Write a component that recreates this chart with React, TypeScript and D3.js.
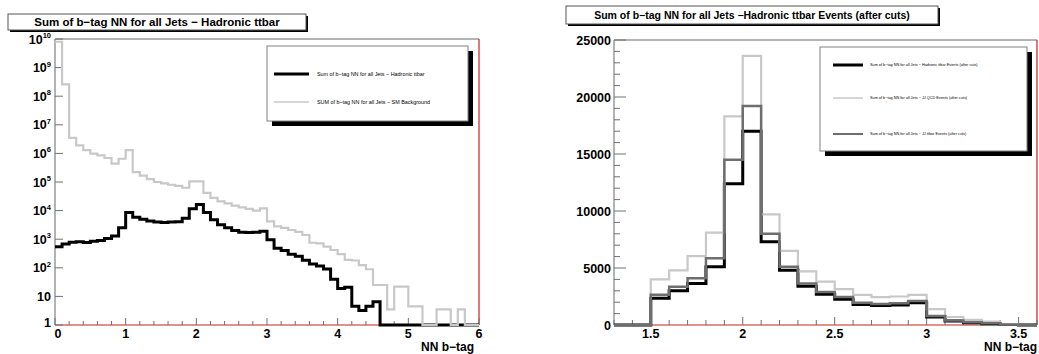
import React from "react";
import * as d3 from "d3";

// ---------------- DATA ----------------
const leftBinEdges = [
  0.0, 0.1, 0.2, 0.3, 0.4, 0.5, 0.6, 0.7, 0.8, 0.9,
  1.0, 1.1, 1.2, 1.3, 1.4, 1.5, 1.6, 1.7, 1.8, 1.9,
  2.0, 2.1, 2.2, 2.3, 2.4, 2.5, 2.6, 2.7, 2.8, 2.9,
  3.0, 3.1, 3.2, 3.3, 3.4, 3.5, 3.6, 3.7, 3.8, 3.9,
  4.0, 4.1, 4.2, 4.3, 4.4, 4.5, 4.6, 4.7, 4.8, 4.9,
  5.0, 5.1, 5.2, 5.3, 5.4, 5.5, 5.6, 5.7, 5.8, 5.9, 6.0,
];
// Sum of b-tag NN for all Jets - Hadronic ttbar
const leftHadronic = [
  550, 680, 780, 820, 760, 850, 900, 1050, 1300, 2500,
  8500, 5800, 5000, 4300, 4000, 3800, 4000, 4100, 5400, 11500,
  16500, 8500, 4800, 3200, 2500, 2000, 1750, 1700, 1750, 1900,
  950, 480, 400, 300, 255, 185, 135, 115, 90, 40,
  19, 21, 4.5, 3.2, 4.5, 6.5, 0, 0, 0, 0,
  0, 0, 0, 0, 0, 0, 0, 0, 0, 0,
];
// SUM of b-tag NN for all Jets - SM Background
const leftBackground = [
  8e9, 2.6e8, 3.5e6, 1.9e6, 1.3e6, 9.8e5, 8.5e5, 6.9e5, 4.4e5, 6.5e5,
  1.3e6, 2.2e5, 1.66e5, 1.26e5, 1.0e5, 8.9e4, 8.0e4, 7.3e4, 6.3e4, 1.05e5,
  1.05e5, 4.2e4, 2.8e4, 2.1e4, 1.8e4, 1.5e4, 1.3e4, 1.15e4, 1.0e4, 1.2e4,
  4200, 2800, 2500, 2100, 1800, 1400, 750, 720, 550, 420,
  300, 190, 180, 125, 89, 25, 25, 3.5, 22, 22,
  4.5, 4.5, 0, 0, 3.5, 3.5, 0, 3.5, 0, 0,
];

const rightBinEdges = [
  1.3, 1.4, 1.5, 1.6, 1.7, 1.8, 1.9, 2.0, 2.1, 2.2, 2.3, 2.4,
  2.5, 2.6, 2.7, 2.8, 2.9, 3.0, 3.1, 3.2, 3.3, 3.4, 3.5, 3.6,
];
const rightHadronic = [
  0, 0, 2350, 3000, 3650, 5100, 12400, 17000, 7300, 4800, 3400, 2700,
  2250, 1800, 1700, 1750, 1950, 700, 350, 200, 120, 40, 0,
];
const rightJJbkg = [
  0, 0, 4000, 4800, 6050, 8100, 18300, 23600, 9700, 6500, 4700, 3800,
  3150, 2650, 2450, 2500, 2650, 1400, 700, 450, 300, 80, 0,
];
const rightJJttbar = [
  0, 0, 2650, 3350, 4100, 5850, 14500, 19200, 8000, 5100, 3650, 2900,
  2450, 1950, 1850, 1900, 2100, 800, 400, 250, 150, 50, 0,
];

const leftXTicks = [0, 1, 2, 3, 4, 5, 6];
const leftYExponents = [0, 1, 2, 3, 4, 5, 6, 7, 8, 9, 10];
const rightXTicks = [1.5, 2, 2.5, 3, 3.5];
const rightXTickLabels = ["1.5", "2", "2.5", "3", "3.5"];
const rightYTicks = [0, 5000, 10000, 15000, 20000, 25000];

const leftTitle = "Sum of b\u2212tag NN for all Jets \u2212 Hadronic ttbar";
const rightTitle = "Sum of b\u2212tag NN for all Jets \u2212Hadronic ttbar Events (after cuts)";
const axisTitle = "NN b\u2212tag";
const leftLegend = [
  "Sum of b\u2212tag NN for all Jets \u2212 Hadronic ttbar",
  "SUM of b\u2212tag NN for all Jets \u2212 SM Background",
];
const rightLegend = [
  "Sum of b\u2212tag NN for all Jets \u2212 Hadronic ttbar Events (after cuts)",
  "Sum of b\u2212tag NN for all Jets \u2212 JJ QCD Events (after cuts)",
  "Sum of b\u2212tag NN for all Jets \u2212 JJ ttbar Events (after cuts)",
];

// ---------------- STYLE ----------------
const FONT = "'Liberation Sans', Arial, Helvetica, sans-serif";
const BLACK = "#000000";
const LIGHT = "#c8c8c8";
const MID = "#6e6e6e";
const FRAME = "#9a9a9a";
const TICK = "#707070";
const RED = "#cc1f1f";

function stepPath(edges: number[], values: number[], x: (v: number) => number, y: (v: number) => number) {
  const pts: [number, number][] = values.map((v, i) => [x(edges[i]), y(v)]);
  pts.push([x(edges[edges.length - 1]), y(values[values.length - 1])]);
  return d3.line().curve(d3.curveStepAfter)(pts) || "";
}

function TitleBox({ x, y, w, h, text, size }: any) {
  return (
    <g>
      <rect x={x + 2} y={y + 2} width={w} height={h} fill="#000" />
      <rect x={x} y={y} width={w} height={h} fill="#fff" stroke="#555" strokeWidth={1} />
      <text x={x + w / 2} y={y + h / 2 + size * 0.36} textAnchor="middle" fontFamily={FONT}
        fontWeight="bold" fontSize={size} fill="#000">{text}</text>
    </g>
  );
}

function Legend({ x, y, w, h, entries, size, lineX0, lineX1, textX }: any) {
  return (
    <g>
      <rect x={x + 5} y={y + 5} width={w} height={h} fill="#000" />
      <rect x={x} y={y} width={w} height={h} fill="#fff" stroke="#808080" strokeWidth={1} />
      {entries.map((e: any, i: number) => (
        <g key={i}>
          <line x1={lineX0} x2={lineX1} y1={e.y} y2={e.y} stroke={e.color} strokeWidth={e.width} />
          <text x={textX} y={e.y + size * 0.35} fontFamily={FONT} fontSize={size} fill="#000">{e.label}</text>
        </g>
      ))}
    </g>
  );
}

export default function App() {
  // Left panel scales
  const lx = d3.scaleLinear().domain([0, 6]).range([55, 479]);
  const ly = d3.scaleLog().domain([1, 1e10]).range([325, 39]).clamp(true);
  const lyv = (v: number) => (v > 0 ? ly(v) : 325);
  // Right panel scales
  const rx = d3.scaleLinear().domain([1.3, 3.6]).range([614, 1037]);
  const ry = d3.scaleLinear().domain([0, 25000]).range([325, 40]);

  const leftMinorX = d3.range(0, 6.0001, 0.2).filter((t) => Math.abs(t - Math.round(t)) > 1e-6);
  const leftMinorY = ly.ticks().filter((t) => Math.abs(Math.log10(t) - Math.round(Math.log10(t))) > 1e-6);
  const rightMinorX = d3.range(1.3, 3.6001, 0.1).filter((t) => Math.abs(t * 2 - Math.round(t * 2)) > 1e-6);
  const rightMinorY = d3.range(0, 25001, 1000).filter((t) => t % 5000 !== 0);

  const labelSize = 12.5;

  return (
    <svg width={1039} height={354} style={{ position: "absolute", left: 0, top: 0, background: "#fff" }}
      xmlns="http://www.w3.org/2000/svg">
      <rect x={0} y={0} width={1039} height={354} fill="#fff" />

      {/* ============ LEFT PANEL ============ */}
      <g>
        <line x1={55} x2={479} y1={39} y2={39} stroke={FRAME} strokeWidth={1.5} />
        <line x1={55} x2={55} y1={39} y2={325} stroke={FRAME} strokeWidth={1.5} />
        <line x1={479} x2={479} y1={39} y2={325} stroke={RED} strokeWidth={1.2} />
        <line x1={55} x2={479} y1={325} y2={325} stroke={RED} strokeWidth={1} />
        {leftYExponents.map((k) => (
          <line key={"lyM" + k} x1={55} x2={63} y1={ly(Math.pow(10, k))} y2={ly(Math.pow(10, k))} stroke={TICK} strokeWidth={1} />
        ))}
        {leftMinorY.map((t, i) => (
          <line key={"lym" + i} x1={55} x2={60} y1={ly(t)} y2={ly(t)} stroke={TICK} strokeWidth={1} />
        ))}
        {leftXTicks.map((t) => (
          <line key={"lxM" + t} x1={lx(t)} x2={lx(t)} y1={325} y2={318} stroke={TICK} strokeWidth={1} />
        ))}
        {leftMinorX.map((t, i) => (
          <line key={"lxm" + i} x1={lx(t)} x2={lx(t)} y1={325} y2={321} stroke={TICK} strokeWidth={1} />
        ))}
        {leftYExponents.map((k) => {
          const yy = ly(Math.pow(10, k)) + labelSize * 0.36;
          if (k === 0)
            return <text key={"lyl" + k} x={51} y={yy - 3} textAnchor="end" fontFamily={FONT} fontWeight="bold" fontSize={labelSize}>1</text>;
          if (k === 1)
            return <text key={"lyl" + k} x={51} y={yy} textAnchor="end" fontFamily={FONT} fontWeight="bold" fontSize={labelSize}>10</text>;
          return (
            <text key={"lyl" + k} x={51} y={yy} textAnchor="end" fontFamily={FONT} fontWeight="bold" fontSize={labelSize}>
              10<tspan fontSize={7.5} dy={-5.5}>{k}</tspan>
            </text>
          );
        })}
        {leftXTicks.map((t) => (
          <text key={"lxl" + t} x={lx(t) + (t === 0 ? 3 : 0)} y={338} textAnchor="middle" fontFamily={FONT} fontWeight="bold" fontSize={labelSize}>{t}</text>
        ))}
        <text x={474} y={351} textAnchor="end" fontFamily={FONT} fontWeight="bold" fontSize={12}>{axisTitle}</text>

        <path d={stepPath(leftBinEdges, leftHadronic, lx, lyv)} fill="none" stroke={BLACK} strokeWidth={3} />
        <path d={stepPath(leftBinEdges, leftBackground, lx, lyv)} fill="none" stroke={LIGHT} strokeWidth={2.2} />

        <Legend x={267} y={46} w={201} h={75} size={5.4} lineX0={274} lineX1={309} textX={317}
          entries={[
            { y: 74, color: BLACK, width: 3, label: leftLegend[0] },
            { y: 102, color: LIGHT, width: 1.5, label: leftLegend[1] },
          ]} />

        <TitleBox x={8} y={14} w={298} h={16} text={leftTitle} size={11.5} />
      </g>

      {/* ============ RIGHT PANEL ============ */}
      <g>
        <line x1={614} x2={1037} y1={40} y2={40} stroke={FRAME} strokeWidth={1.5} />
        <line x1={614} x2={614} y1={40} y2={325} stroke={FRAME} strokeWidth={1.5} />
        <line x1={1037} x2={1037} y1={40} y2={325} stroke={RED} strokeWidth={1.2} />
        <line x1={614} x2={1037} y1={325} y2={325} stroke={RED} strokeWidth={1} />
        {rightYTicks.map((t) => (
          <line key={"ryM" + t} x1={614} x2={626} y1={ry(t)} y2={ry(t)} stroke={TICK} strokeWidth={1} />
        ))}
        {rightMinorY.map((t) => (
          <line key={"rym" + t} x1={614} x2={620} y1={ry(t)} y2={ry(t)} stroke={TICK} strokeWidth={1} />
        ))}
        {rightXTicks.map((t) => (
          <line key={"rxM" + t} x1={rx(t)} x2={rx(t)} y1={325} y2={317} stroke={TICK} strokeWidth={1} />
        ))}
        {rightMinorX.map((t, i) => (
          <line key={"rxm" + i} x1={rx(t)} x2={rx(t)} y1={325} y2={320} stroke={TICK} strokeWidth={1} />
        ))}
        {rightYTicks.map((t) => (
          <text key={"ryl" + t} x={611} y={ry(t) + labelSize * 0.36} textAnchor="end" fontFamily={FONT} fontWeight="bold" fontSize={labelSize}>{t}</text>
        ))}
        {rightXTicks.map((t, i) => (
          <text key={"rxl" + t} x={rx(t)} y={338} textAnchor="middle" fontFamily={FONT} fontWeight="bold" fontSize={labelSize}>{rightXTickLabels[i]}</text>
        ))}
        <text x={1037} y={351} textAnchor="end" fontFamily={FONT} fontWeight="bold" fontSize={12}>{axisTitle}</text>

        <path d={stepPath(rightBinEdges, rightHadronic, rx, ry)} fill="none" stroke={BLACK} strokeWidth={3} />
        <path d={stepPath(rightBinEdges, rightJJbkg, rx, ry)} fill="none" stroke={LIGHT} strokeWidth={2.2} />
        <path d={stepPath(rightBinEdges, rightJJttbar, rx, ry)} fill="none" stroke={MID} strokeWidth={2.5} />

        <Legend x={820} y={47} w={207} h={104} size={3.8} lineX0={833} lineX1={863} textX={870}
          entries={[
            { y: 65, color: BLACK, width: 3, label: rightLegend[0] },
            { y: 98, color: LIGHT, width: 1.5, label: rightLegend[1] },
            { y: 134, color: MID, width: 2, label: rightLegend[2] },
          ]} />

        <TitleBox x={566} y={6} w={372} h={18} text={rightTitle} size={10.5} />
      </g>
    </svg>
  );
}
